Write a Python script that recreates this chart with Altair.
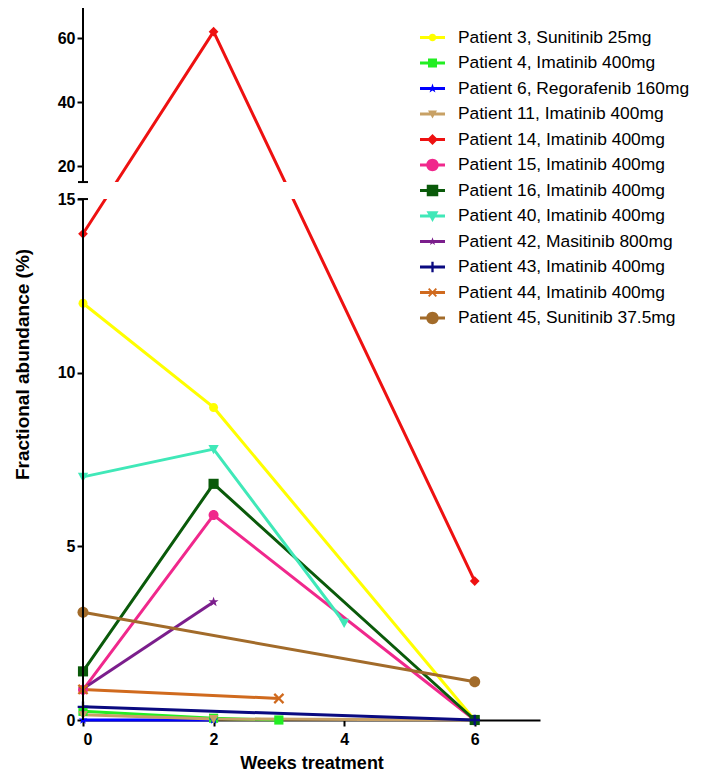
import altair as alt
import pandas as pd

# ---------------- data ----------------
labels = [
    "Patient 3, Sunitinib 25mg",
    "Patient 4, Imatinib 400mg",
    "Patient 6, Regorafenib 160mg",
    "Patient 11, Imatinib 400mg",
    "Patient 14, Imatinib 400mg",
    "Patient 15, Imatinib 400mg",
    "Patient 16, Imatinib 400mg",
    "Patient 40, Imatinib 400mg",
    "Patient 42, Masitinib 800mg",
    "Patient 43, Imatinib 400mg",
    "Patient 44, Imatinib 400mg",
    "Patient 45, Sunitinib 37.5mg",
]
weeks = [
    [0, 2, 6],
    [0, 2, 3],
    [0, 2],
    [0, 2, 6],
    [0, 2, 6],
    [0, 2, 6],
    [0, 2, 6],
    [0, 2, 4],
    [0, 2],
    [0, 6],
    [0, 3],
    [0, 6],
]
values = [
    [12.0, 9.0, 0.0],
    [0.25, 0.05, 0.0],
    [0.0, 0.0],
    [0.15, 0.03, 0.0],
    [14.0, 62.0, 4.0],
    [0.87, 5.9, 0.0],
    [1.4, 6.8, 0.0],
    [7.0, 7.8, 2.8],
    [0.9, 3.4],
    [0.38, 0.0],
    [0.88, 0.62],
    [3.1, 1.1],
]
x_ticks = [0, 2, 4, 6]
low_ticks = [0, 5, 10, 15]
high_ticks = [20, 40, 60]

# ---------------- styles ----------------
colors = ["#FFFF00", "#22EE22", "#0000FF", "#C8A165", "#EE1111", "#F0288C",
          "#0A5A0A", "#40E8B8", "#7B1E8C", "#0A0A80", "#D06A1E", "#A26B2A"]
kinds = ["circle", "square", "star", "tri", "diamond", "circle",
         "square", "tri", "star", "plus", "x", "circle"]
diam = [9, 11, 12, 11, 15, 14, 14, 15, 11, 13, 12, 14]
leg_half = [0.30, 0.36, 0.40, 0.36, 0.44, 0.50, 0.46, 0.48, 0.34, 0.42, 0.36, 0.50]

FONT = "Liberation Sans"
PX_PER_UNIT = 34.73
BREAK = 15.0
GAP = 17 / PX_PER_UNIT
R = 3.2 / PX_PER_UNIT
H = 712
W = 457
TMAX = H / PX_PER_UNIT


def tpos(v):
    return v if v <= BREAK else BREAK + GAP + (v - BREAK) * R


STAR = [(0, -1), (0.235, -0.324), (0.951, -0.309), (0.380, 0.124), (0.588, 0.809),
        (0, 0.4), (-0.588, 0.809), (-0.380, 0.124), (-0.951, -0.309), (-0.235, -0.324)]
XSH = [(-1, -0.7), (-0.7, -1), (0, -0.3), (0.7, -1), (1, -0.7), (0.3, 0),
       (1, 0.7), (0.7, 1), (0, 0.3), (-0.7, 1), (-1, 0.7), (-0.3, 0)]
PLUS = [(-1, -0.22), (-0.22, -0.22), (-0.22, -1), (0.22, -1), (0.22, -0.22), (1, -0.22),
        (1, 0.22), (0.22, 0.22), (0.22, 1), (-0.22, 1), (-0.22, 0.22), (-1, 0.22)]
SQ = [(-1, -1), (1, -1), (1, 1), (-1, 1)]
DIA = [(0, -1), (1, 0), (0, 1), (-1, 0)]
TRI = [(-1, -0.8), (1, -0.8), (0, 1)]


def poly(pts, s):
    return "M" + "L".join(f"{x*s:.3f},{y*s:.3f}" for x, y in pts) + "Z"


def marker(kind, s):
    if kind == "circle":
        return f"M{-s:.3f},0A{s:.3f},{s:.3f},0,1,1,{s:.3f},0A{s:.3f},{s:.3f},0,1,1,{-s:.3f},0Z"
    pts = {"square": SQ, "diamond": DIA, "tri": TRI, "star": STAR, "plus": PLUS, "x": XSH}[kind]
    return poly(pts, s)


plot_shapes = [marker(k, 1.0) for k in kinds]
BAR = "M-1,-0.12L1,-0.12L1,0.12L-1,0.12Z"
legend_shapes = [BAR + marker(k, s) for k, s in zip(kinds, leg_half)]
sizes = [d * d for d in diam]

rows = []
for lab, ws, vs in zip(labels, weeks, values):
    for w, v in zip(ws, vs):
        rows.append({"label": lab, "week": w, "value": v})
df = pd.DataFrame(rows)

calc = f"datum.value <= {BREAK} ? datum.value : {BREAK + GAP} + (datum.value - {BREAK}) * {R}"

x_enc = alt.X("week:Q", scale=alt.Scale(domain=[0, 7], nice=False),
              axis=alt.Axis(values=x_ticks, format="d", title="Weeks treatment", grid=False,
                            domainColor="black", domainWidth=2, tickColor="black",
                            tickWidth=2, tickSize=6, labelFont=FONT, labelFontSize=16,
                            labelFontWeight="bold", labelColor="black", labelPadding=5,
                            titleFont=FONT, titleFontSize=18, titleFontWeight="bold",
                            titleColor="black", titlePadding=7))

y_vals = [float(v) for v in low_ticks] + [tpos(v) for v in high_ticks]
label_expr = (f"datum.value <= {BREAK + 0.01} ? format(datum.value, 'd') : "
              f"format((datum.value - {BREAK + GAP}) / {R} + {BREAK}, '.0f')")
y_scale = alt.Scale(domain=[0, TMAX], nice=False, zero=False)
y_enc = alt.Y("t:Q", scale=y_scale,
              axis=alt.Axis(values=y_vals, labelExpr=label_expr, domain=False, grid=False,
                            title="Fractional abundance (%)", tickColor="black", tickWidth=2,
                            tickSize=6, labelFont=FONT, labelFontSize=16,
                            labelFontWeight="bold", labelColor="black", labelPadding=2,
                            titleFont=FONT, titleFontSize=19, titleFontWeight="bold",
                            titleColor="black", titlePadding=25))

color_scale = alt.Scale(domain=labels, range=colors)

base = alt.Chart(df).transform_calculate(t=calc)

lines = base.mark_line(strokeWidth=3).encode(
    x=x_enc, y=y_enc,
    color=alt.Color("label:N", scale=color_scale, legend=None),
    order="week:Q",
)

points = base.mark_point(filled=True, opacity=1, strokeWidth=0).encode(
    x=alt.X("week:Q"), y=alt.Y("t:Q"),
    color=alt.Color("label:N", scale=color_scale, legend=None),
    shape=alt.Shape("label:N", scale=alt.Scale(domain=labels, range=plot_shapes), legend=None),
    size=alt.Size("label:N", scale=alt.Scale(domain=labels, range=sizes), legend=None),
)

leg = alt.Legend(title=None, orient="none", legendX=337, legendY=17, labelFont=FONT,
                 labelFontSize=17.4, labelColor="black", symbolSize=625,
                 symbolStrokeWidth=0, labelOffset=13, rowPadding=4.5, padding=0,
                 symbolOpacity=1, labelLimit=400)
legend_layer = base.transform_filter("false").mark_point(filled=True, strokeWidth=0).encode(
    x=alt.X("week:Q"), y=alt.Y("t:Q"),
    color=alt.Color("label:N", scale=color_scale, legend=leg),
    shape=alt.Shape("label:N", scale=alt.Scale(domain=labels, range=legend_shapes), legend=leg),
)

gap_df = pd.DataFrame({"t": [BREAK], "t2": [BREAK + GAP]})
gap_band = alt.Chart(gap_df).mark_rect(color="white").encode(
    x=alt.value(2), x2=alt.value(W),
    y=alt.Y("t:Q"), y2="t2:Q",
)

seg_df = pd.DataFrame({"t": [0.0, BREAK + GAP], "t2": [BREAK, TMAX]})
axis_segs = alt.Chart(seg_df).mark_rule(color="black", strokeWidth=2).encode(
    x=alt.value(0), y=alt.Y("t:Q"), y2="t2:Q",
)
cap_df = pd.DataFrame({"t": [BREAK, BREAK + GAP]})
caps = alt.Chart(cap_df).mark_rule(color="black", strokeWidth=2).encode(
    x=alt.value(-5), x2=alt.value(5), y=alt.Y("t:Q"),
)

chart = alt.layer(lines, gap_band, points, axis_segs, caps, legend_layer).resolve_scale(
    color="independent", shape="independent", size="independent"
).properties(
    width=W, height=H,
    padding={"left": 75, "top": 0, "right": 152, "bottom": 56},
    autosize=alt.AutoSizeParams(type="none"),
    background="white",
).configure_view(stroke=None)

chart.save("out.html", embed_options={"renderer": "svg", "actions": False})
